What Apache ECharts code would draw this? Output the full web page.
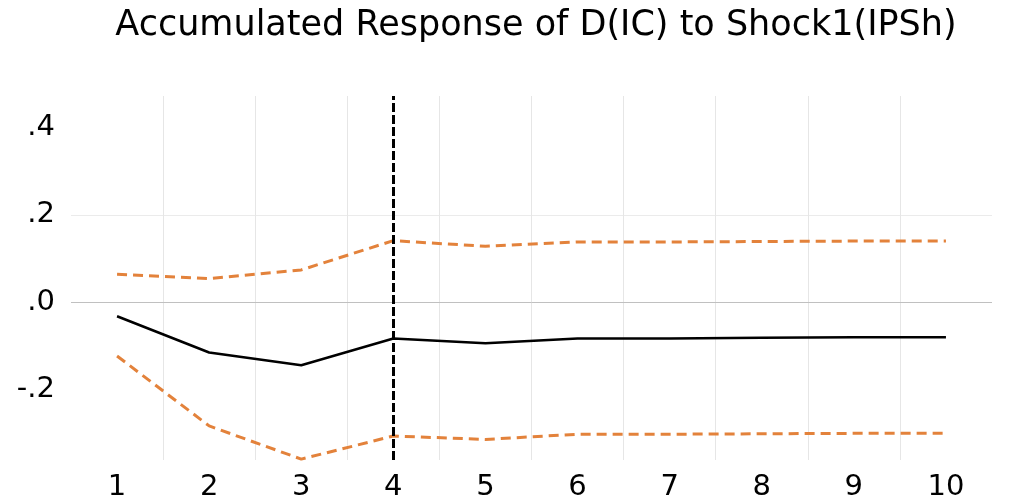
<!DOCTYPE html>
<html>
<head>
<meta charset="utf-8">
<script src="https://cdn.jsdelivr.net/npm/echarts@6/dist/echarts.min.js"></script>
<style>
html,body{margin:0;padding:0;background:#fff;}
#chart{width:1013px;height:502px;}
</style>
</head>
<body>
<div id="chart"></div>
<script>
var titleText = 'Accumulated Response of D(IC) to Shock1(IPSh)';
var categories = ['1','2','3','4','5','6','7','8','9','10'];
var response = [-0.032, -0.115, -0.144, -0.083, -0.094, -0.083, -0.083, -0.081, -0.080, -0.080];
var upperBand = [0.064, 0.054, 0.074, 0.141, 0.128, 0.138, 0.138, 0.139, 0.140, 0.140];
var lowerBand = [-0.123, -0.283, -0.359, -0.306, -0.314, -0.302, -0.302, -0.301, -0.300, -0.300];
var yTicks = [-0.2, 0, 0.2, 0.4];
var yTickLabels = ['-.2', '.0', '.2', '.4'];
var shockPeriod = '4';
var yMin = -0.361, yMax = 0.472;

var chart = echarts.init(document.getElementById('chart'));
var font = 'DejaVu Sans';
var orange = '#e3823b';
chart.setOption({
  animation: false,
  backgroundColor: '#ffffff',
  title: {
    text: titleText,
    left: 531,
    top: 3,
    textAlign: 'center',
    textStyle: {fontFamily: font, fontSize: 35, fontWeight: 'normal', color: '#000'}
  },
  grid: {left: 71, right: 21, top: 96, bottom: 42, containLabel: false},
  xAxis: {
    type: 'category',
    data: categories,
    boundaryGap: true,
    axisLine: {show: false},
    axisTick: {show: false},
    axisLabel: {fontFamily: font, fontSize: 29, color: '#000', margin: 13, interval: 0},
    splitLine: {show: true, showMinLine: false, showMaxLine: false, lineStyle: {color: '#e6e6e6', width: 1}}
  },
  yAxis: {
    type: 'value',
    min: yMin,
    max: yMax,
    axisLine: {show: false},
    axisTick: {show: false, customValues: yTicks},
    axisLabel: {
      fontFamily: font, fontSize: 29, color: '#000', margin: 16,
      customValues: yTicks,
      formatter: function (v) {
        for (var i = 0; i < yTicks.length; i++) if (Math.abs(v - yTicks[i]) < 1e-9) return yTickLabels[i];
        return '';
      }
    },
    splitLine: {show: true, showMinLine: false, showMaxLine: false, lineStyle: {color: '#ebebeb', width: 1}}
  },
  series: [
    {
      type: 'line', data: lowerBand, symbol: 'none', z: 3,
      lineStyle: {color: orange, width: 3, type: [10, 6]},
      markLine: {
        silent: true, symbol: 'none', label: {show: false}, z: 1,
        lineStyle: {color: '#c0c0c0', width: 1, type: 'solid'},
        data: [{yAxis: 0}]
      }
    },
    {
      type: 'line', data: upperBand, symbol: 'none', z: 3,
      lineStyle: {color: orange, width: 3, type: [10, 6]}
    },
    {
      type: 'line', data: response, symbol: 'none', z: 4,
      lineStyle: {color: '#000', width: 2.5, type: 'solid'},
      markLine: {
        silent: true, symbol: 'none', label: {show: false},
        lineStyle: {color: '#000', width: 3, type: [9, 3]},
        data: [{xAxis: shockPeriod}]
      }
    }
  ]
});
</script>
</body>
</html>
